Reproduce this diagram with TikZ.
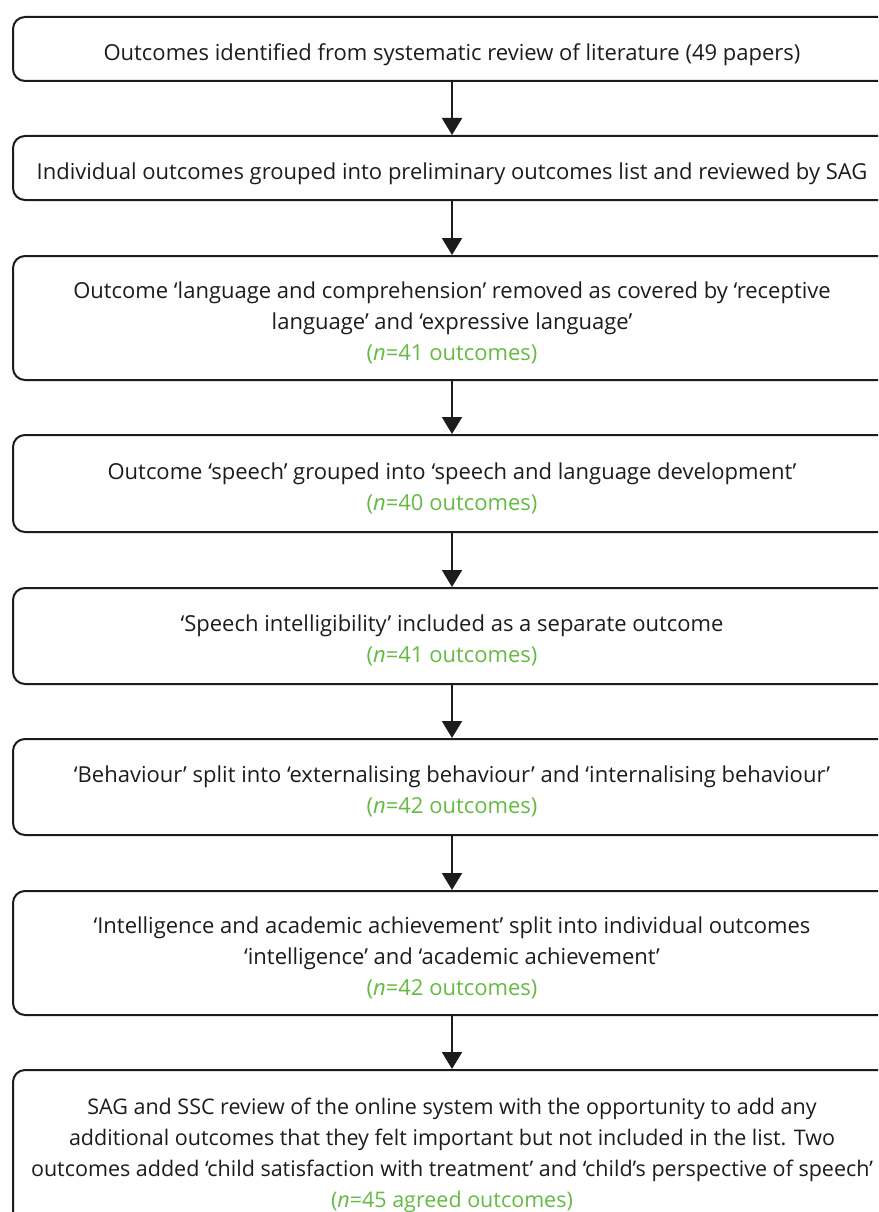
\documentclass[tikz,border=0pt]{standalone}
\usepackage{fontspec}
\setmainfont{Open Sans}
\usetikzlibrary{arrows.meta}
\definecolor{ink}{RGB}{30,27,28}
\definecolor{countgreen}{RGB}{100,186,66}
\newcommand{\cnt}[1]{\textcolor{countgreen}{(\textit{n}=#1)}}
% centred block of lines, lowered a little while keeping its nominal extent
\newcommand{\blk}[1]{\raisebox{-5pt}[\height][\depth]{\begin{tabular}{@{}c@{}}#1\end{tabular}}}
\tikzset{
  stage/.style={draw=ink, line width=2pt, rounded corners=12pt, minimum width=878pt,
    inner sep=0pt, align=center, text=ink,
    font=\fontsize{22}{31}\selectfont},
  flow/.style={draw=ink, line width=2pt, -{Triangle[width=20pt,length=17pt]}}
}
\begin{document}
\begin{tikzpicture}[x=1pt,y=-1pt]
\useasboundingbox (0,0) rectangle (878,1212);
\clip (0,0) rectangle (878,1212);
\node[stage, minimum height=64pt] (b1) at (452,49)
  {\blk{Outcomes identified from systematic review of literature (49 papers)}};
\node[stage, minimum height=64pt] (b2) at (452,168)
  {\blk{Individual outcomes grouped into preliminary outcomes list and reviewed by SAG}};
\node[stage, minimum height=124pt] (b3) at (452,318)
  {\blk{Outcome ‘language and comprehension’ removed as covered by ‘receptive\\
   language’ and ‘expressive language’\\ \cnt{41 outcomes}}};
\node[stage, minimum height=97pt] (b4) at (452,483.5)
  {\blk{Outcome ‘speech’ grouped into ‘speech and language development’\\ \cnt{40 outcomes}}};
\node[stage, minimum height=96pt] (b5) at (452,636)
  {\blk{‘Speech intelligibility’ included as a separate outcome\\ \cnt{41 outcomes}}};
\node[stage, minimum height=96pt] (b6) at (452,787)
  {\blk{‘Behaviour’ split into ‘externalising behaviour’ and ‘internalising behaviour’\\ \cnt{42 outcomes}}};
\node[stage, minimum height=124pt] (b7) at (452,953)
  {\blk{‘Intelligence and academic achievement’ split into individual outcomes\\
   ‘intelligence’ and ‘academic achievement’\\ \cnt{42 outcomes}}};
\node[stage, minimum height=160pt, font=\fontsize{21.5}{31}\selectfont] (b8) at (452,1150)
  {\blk{SAG and SSC review of the online system with the opportunity to add any\\
   additional outcomes that they felt important but not included in the list. Two\\
   outcomes added ‘child satisfaction with treatment’ and ‘child’s perspective of speech’\\
   \cnt{45 agreed outcomes}}};
\draw[flow] (b1) -- (b2);
\draw[flow] (b2) -- (b3);
\draw[flow] (b3) -- (b4);
\draw[flow] (b4) -- (b5);
\draw[flow] (b5) -- (b6);
\draw[flow] (b6) -- (b7);
\draw[flow] (b7) -- (b8);
\end{tikzpicture}
\end{document}
